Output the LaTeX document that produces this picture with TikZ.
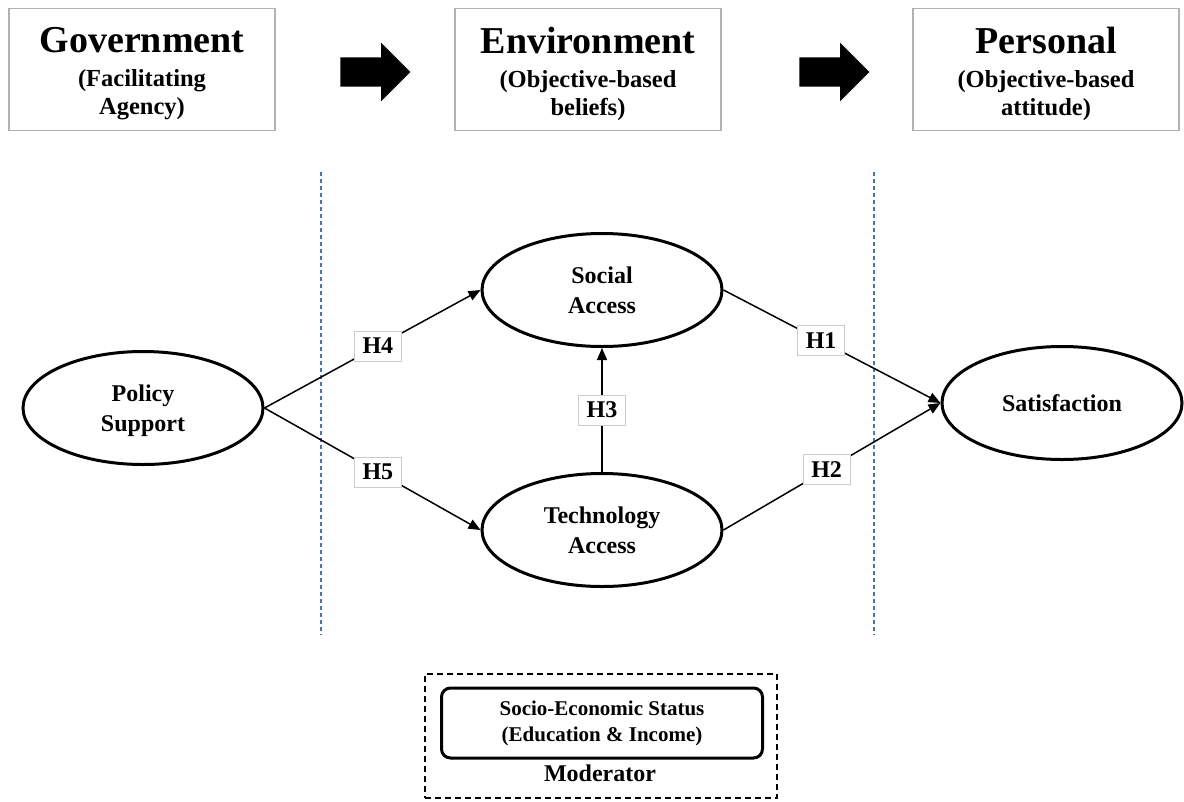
\documentclass[tikz,border=0pt]{standalone}
\usepackage{fontspec}
\setmainfont{Liberation Serif}
\usetikzlibrary{shapes.geometric,shapes.arrows,arrows.meta}
\definecolor{guideblue}{RGB}{68,114,196}
\begin{document}
\begin{tikzpicture}
[x=1pt,y=-1pt,
  stagedecorate/.style={draw=black!30,line width=1.5pt,minimum width=266pt,
    minimum height=122pt,inner sep=0pt},%
  stagetext/.style={align=center,inner sep=0pt,
    font=\fontsize{24.5}{28}\selectfont\bfseries},%
  ovaldecorate/.style={shape=ellipse,draw,line width=3pt,minimum width=240pt,
    minimum height=113pt,inner sep=0pt,align=center,text depth=0pt,
    font=\fontsize{24}{30}\selectfont\bfseries},%
  linedecorate/.style={-{Triangle[length=12pt,width=10pt]},line width=1.5pt},%
  hypdecorate/.style={draw=black!20,fill=white,line width=1pt,minimum width=47pt,
    minimum height=30pt,inner sep=0pt,font=\fontsize{24}{26}\selectfont\bfseries},%
  bigarrow/.style={shape=single arrow,fill=black,inner sep=0pt,inner ysep=14.5pt,
    single arrow head extend=14.5pt,single arrow head indent=0pt,minimum height=70pt},%
  guidedecorate/.style={guideblue,line width=1.5pt,dash pattern=on 4pt off 3pt}]
\useasboundingbox (0,0) rectangle (1184,801);
%% stage boxes on top
\foreach \nodename/\xpos/\stagetitle/\stagelineA/\stagelineB in
  {gov/142/Government/(Facilitating/Agency),
  env/588/Environment/(Objective-based/beliefs),
  pers/1046/Personal/(Objective-based/attitude)} {
  \node (\nodename) at (\xpos,69.5) [stagedecorate] {};
  \node (\nodename text) at (\xpos,74) [stagetext]
    {{\fontsize{38}{40}\selectfont \stagetitle}\\[6pt] \stagelineA\\ \stagelineB};
}
\node (arrowA) at (368,72) [bigarrow] {};
\node (arrowB) at (827,72) [bigarrow] {};
%% dashed guides
\coordinate (guideAtop) at (321,172);
\coordinate (guideAbot) at (321,635);
\coordinate (guideBtop) at (874,172);
\coordinate (guideBbot) at (874,635);
\draw[guidedecorate] (guideAtop) -- (guideAbot);
\draw[guidedecorate] (guideBtop) -- (guideBbot);
%% constructs
\node (policy) at (143,408) [ovaldecorate] {Policy\\Support};
\node (social) at (602,290) [ovaldecorate] {Social\\Access};
\node (tech) at (602,530) [ovaldecorate] {Technology\\Access};
\node (satis) at (1062,403) [ovaldecorate] {Satisfaction};
%% paths
\draw[linedecorate] (policy.east) -- node[pos=0.525,hypdecorate] {H4} (social.west);
\draw[linedecorate] (policy.east) -- node[pos=0.525,hypdecorate] {H5} (tech.west);
\draw[linedecorate] (tech.north) -- node[pos=0.5,hypdecorate] {H3} (social.south);
\draw[linedecorate] (social.east) -- node[pos=0.45,hypdecorate] {H1} (satis.west);
\draw[linedecorate] (tech.east) -- node[pos=0.475,hypdecorate] {H2} (satis.west);
%% moderator
\node (modbox) at (601,736) [draw,line width=2pt,dash pattern=on 6pt off 4pt,
  minimum width=352pt,minimum height=124pt] {};
\node (ses) at (602,723) [draw,line width=3pt,rounded corners=9pt,
  minimum width=321pt,minimum height=70pt,align=center,
  font=\fontsize{21}{26}\selectfont\bfseries]
  {Socio-Economic Status\\(Education \& Income)};
\node (modlabel) at (600,773) [font=\fontsize{24}{26}\selectfont\bfseries] {Moderator};
\end{tikzpicture}
\end{document}
